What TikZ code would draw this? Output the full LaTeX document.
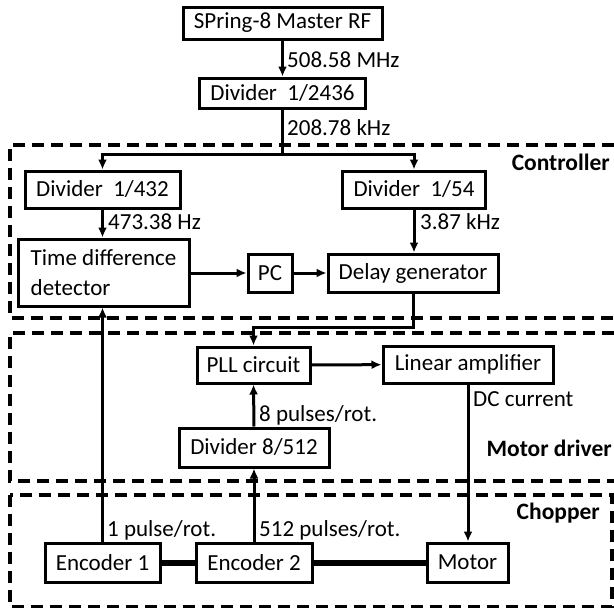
\documentclass[tikz,border=0pt]{standalone}
\usepackage{fontspec}
\setmainfont{Carlito}
\usetikzlibrary{arrows.meta}
\begin{document}
\begin{tikzpicture}[x=1pt,y=-1pt,
  font=\fontsize{23}{30}\selectfont,
  box/.style={draw, line width=3pt, inner sep=0pt},
  lbl/.style={inner sep=0pt, anchor=west},
  ttl/.style={inner sep=0pt, anchor=east, font=\fontsize{23.5}{28}\selectfont\bfseries},
  sig/.style={line width=3pt, -{Latex[length=10pt,width=9pt]}},
  wire/.style={line width=3pt},
  shaft/.style={line width=6pt},
  zone/.style={line width=3.2pt, dash pattern=on 12pt off 7pt}]
\useasboundingbox (0,0) rectangle (614,608);

% dashed zones
\draw[zone] (614,145) -- (10,145) -- (10,318) -- (614,318);
\draw[zone] (614,333) -- (10,333) -- (10,481) -- (614,481);
\draw[zone] (10,495) rectangle (612,607);

% boxes
\node[box, minimum width=199pt, minimum height=32pt] (rf) at (282.5,23) {SPring-8 Master RF};
\node[box, minimum width=166pt, minimum height=30pt] (d2436) at (282.5,93) {Divider\ \ 1/2436};
\node[box, minimum width=155pt, minimum height=37pt] (d432) at (102.5,189.5) {Divider\ \ 1/432};
\node[box, minimum width=143pt, minimum height=37pt] (d54) at (414,189.5) {Divider\ \ 1/54};
\node[box, minimum width=171pt, minimum height=67pt, align=left] (tdd) at (103.5,272.5) {Time difference\\detector};
\node[box, minimum width=44pt, minimum height=38pt] (pc) at (270,273) {PC};
\node[box, minimum width=170pt, minimum height=38pt] (dly) at (413,273) {Delay generator};
\node[box, minimum width=113pt, minimum height=36pt] (pll) at (253.5,365) {PLL circuit};
\node[box, minimum width=170pt, minimum height=37pt] (amp) at (468,364.5) {Linear amplifier};
\node[box, minimum width=150pt, minimum height=39pt] (d8) at (254,447.5) {Divider 8/512};
\node[box, minimum width=115pt, minimum height=39pt] (enc1) at (102.5,562.5) {Encoder 1};
\node[box, minimum width=116pt, minimum height=39pt] (enc2) at (254,562.5) {Encoder 2};
\node[box, minimum width=81pt, minimum height=39pt] (motor) at (467.5,562.5) {Motor};

% zone titles
\node[ttl] (tc) at (610,162) {Controller};
\node[ttl] (tm) at (612,448) {Motor driver};
\node[ttl] (tch) at (600,513) {Chopper};

% signal labels
\node[lbl] (f1) at (287,60) {508.58 MHz};
\node[lbl] (f2) at (287,128) {208.78 kHz};
\node[lbl] (f3) at (108,222) {473.38 Hz};
\node[lbl] (f4) at (420,222) {3.87 kHz};
\node[lbl] (f5) at (473,399) {DC current};
\node[lbl] (f6) at (259,415) {8 pulses/rot.};
\node[lbl] (f7) at (107,530) {1 pulse/rot.};
\node[lbl] (f8) at (259,530) {512 pulses/rot.};

% connectors
\coordinate (split) at (282.5,154);
\coordinate (bend) at (413,327);
\draw[sig] (rf.south) -- (d2436.north);
\draw[wire] (d2436.south) -- (split);
\draw[sig] (split) -| (d432.north);
\draw[sig] (split) -| (d54.north);
\draw[sig] (d432.south) -- (d432.south |- tdd.north);
\draw[sig] (d54.south) -- (d54.south |- dly.north);
\draw[sig] (tdd.east |- pc.west) -- (pc.west);
\draw[sig] (pc) -- (dly);
\draw[sig] (dly.south) -- (bend) -| (pll.north);
\draw[sig] (pll) -- (amp);
\draw[sig] (amp.south) -- (amp.south |- motor.north);
\draw[sig] (d8.north) -- (pll.south);
\draw[sig] (enc2.north) -- (d8.south);
\draw[sig] (enc1.north) -- (enc1.north |- tdd.south);
\draw[shaft] (enc1) -- (enc2);
\draw[shaft] (enc2) -- (motor);
\end{tikzpicture}
\end{document}
